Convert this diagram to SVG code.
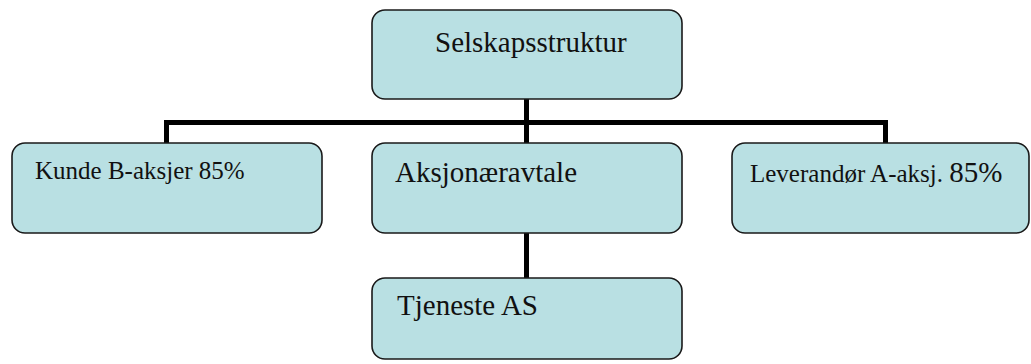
<svg xmlns="http://www.w3.org/2000/svg" width="1031" height="364" viewBox="0 0 1031 364">
  <style>
    .box { fill: #b9e0e3; stroke: #1a1a1a; stroke-width: 1.6; }
    .lbl { font-family: 'Liberation Serif', 'Times New Roman', 'DejaVu Serif', serif; fill: #111; }
    .conn { fill: none; stroke: #000; stroke-width: 5; }
  </style>
  <rect width="1031" height="364" fill="#ffffff"/>

  <!-- connectors -->
  <g id="connectors">
    <path class="conn" d="M526.5,99 V122.5"/>
    <path class="conn" d="M166.5,143 V122.5 H885.5 V143"/>
    <path class="conn" d="M526.5,122.5 V143"/>
    <path class="conn" d="M526.5,233 V278"/>
  </g>

  <!-- nodes -->
  <g id="node-selskapsstruktur">
    <rect class="box" x="372" y="10" width="310" height="89" rx="13"/>
    <text class="lbl" font-family="Liberation Serif, serif" x="435" y="52" font-size="29">Selskapsstruktur</text>
  </g>
  <g id="node-kunde">
    <rect class="box" x="12" y="143" width="310" height="90" rx="13"/>
    <text class="lbl" font-family="Liberation Serif, serif" x="35" y="179" font-size="25">Kunde B-aksjer 85%</text>
  </g>
  <g id="node-aksjonaeravtale">
    <rect class="box" x="372" y="143" width="310" height="90" rx="13"/>
    <text class="lbl" font-family="Liberation Serif, serif" x="395" y="182" font-size="29">Aksjonæravtale</text>
  </g>
  <g id="node-leverandor">
    <rect class="box" x="732" y="143" width="297" height="90" rx="13"/>
    <text class="lbl" font-family="Liberation Serif, serif" x="750" y="182" font-size="25">Leverandør A-aksj. <tspan font-size="29">85%</tspan></text>
  </g>
  <g id="node-tjeneste">
    <rect class="box" x="372" y="278" width="310" height="81" rx="13"/>
    <text class="lbl" font-family="Liberation Serif, serif" x="397" y="315" font-size="29">Tjeneste AS</text>
  </g>
</svg>
